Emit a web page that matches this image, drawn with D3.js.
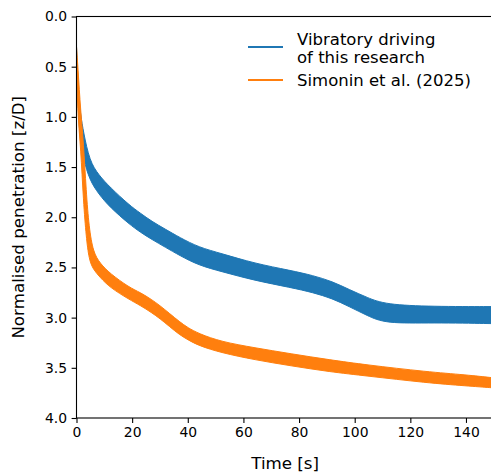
<!DOCTYPE html>
<html>
<head>
<meta charset="utf-8">
<script src="https://cdn.jsdelivr.net/npm/d3@7"></script>
<style>
  body { margin: 0; background: #fff; }
  svg { display: block; font-family: "DejaVu Sans", sans-serif; }
</style>
</head>
<body>
<svg id="chart" width="491" height="475"></svg>
<script>
// Band envelopes (time [s], upper/lower z/D)
const blueT   = [0, 0.8, 1.5, 2.5, 4.7, 8, 12, 19, 23, 27, 32, 37, 44, 52, 64, 77, 85, 92, 98, 104.5, 111, 128, 150];
const blueTop = [0.30, 0.80, 0.98, 1.15, 1.44, 1.58, 1.70, 1.88, 1.96, 2.04, 2.12, 2.20, 2.30, 2.36, 2.46, 2.53, 2.58, 2.64, 2.72, 2.80, 2.87, 2.89, 2.89];
const blueBot = [0.45, 1.05, 1.25, 1.42, 1.63, 1.77, 1.90, 2.07, 2.15, 2.22, 2.30, 2.38, 2.48, 2.54, 2.63, 2.70, 2.75, 2.81, 2.89, 2.98, 3.06, 3.05, 3.06];

const orangeT   = [0, 0.5, 1.5, 2.5, 3.5, 4.5, 6, 8.5, 12, 19, 23, 27, 30, 33.5, 37, 40, 44, 52, 64, 77, 91, 104, 126, 140, 150];
const orangeTop = [0.30, 0.50, 0.95, 1.25, 1.75, 2.10, 2.35, 2.46, 2.56, 2.70, 2.75, 2.82, 2.88, 2.96, 3.04, 3.10, 3.16, 3.24, 3.30, 3.36, 3.42, 3.47, 3.54, 3.57, 3.60];
const orangeBot = [0.50, 1.00, 1.30, 1.85, 2.20, 2.42, 2.52, 2.60, 2.70, 2.82, 2.88, 2.95, 3.01, 3.09, 3.17, 3.22, 3.28, 3.35, 3.42, 3.48, 3.54, 3.58, 3.65, 3.68, 3.70];

const xTicks = [0, 20, 40, 60, 80, 100, 120, 140];
const yTicks = [0, 0.5, 1, 1.5, 2, 2.5, 3, 3.5, 4];

const seriesNames = ["Vibratory driving|of this research", "Simonin et al. (2025)"];
const colors = ["#1f77b4", "#ff7f0e"];

const svg = d3.select("#chart");
const plotLeft = 76.5, plotTop = 16.5, plotBottom = 418, plotRight = 493.8;

const x = d3.scaleLinear().domain([0, 150]).range([plotLeft, plotRight]);
const y = d3.scaleLinear().domain([0, 4]).range([plotTop, plotBottom]);

svg.append("clipPath").attr("id", "clip")
  .append("rect").attr("x", plotLeft).attr("y", plotTop)
  .attr("width", plotRight - plotLeft).attr("height", plotBottom - plotTop);

// Build rows for each band
function rows(ts, tops, bots) {
  return ts.map((t, i) => ({ t: t, hi: tops[i], lo: bots[i] }));
}

const area = d3.area()
  .x(d => x(d.t))
  .y0(d => y(d.lo))
  .y1(d => y(d.hi))
  .curve(d3.curveBasis);

const plot = svg.append("g").attr("clip-path", "url(#clip)");
plot.append("path").datum(rows(blueT, blueTop, blueBot))
  .attr("d", area).attr("fill", colors[0])
  .attr("stroke", colors[0]).attr("stroke-width", 1);
plot.append("path").datum(rows(orangeT, orangeTop, orangeBot))
  .attr("d", area).attr("fill", colors[1])
  .attr("stroke", colors[1]).attr("stroke-width", 1);

// Axes
const xAxis = svg.append("g").attr("transform", `translate(0,${plotBottom})`)
  .call(d3.axisBottom(x).tickValues(xTicks).tickFormat(d3.format("d"))
    .tickSizeOuter(0).tickSize(4.9).tickPadding(4.5));
const yAxis = svg.append("g").attr("transform", `translate(${plotLeft},0)`)
  .call(d3.axisLeft(y).tickValues(yTicks).tickFormat(d3.format(".1f"))
    .tickSizeOuter(0).tickSize(4.9).tickPadding(4.5));

[xAxis, yAxis].forEach(g => {
  g.select(".domain").remove();
  g.selectAll(".tick line").attr("stroke", "#000").attr("stroke-width", 1.1);
  g.selectAll(".tick text").attr("fill", "#000")
    .style("font-size", "13.9px").style("font-family", "DejaVu Sans");
});

// Spines
svg.append("rect")
  .attr("x", plotLeft).attr("y", plotTop)
  .attr("width", plotRight - plotLeft).attr("height", plotBottom - plotTop)
  .attr("fill", "none").attr("stroke", "#000").attr("stroke-width", 1.1);

// Axis labels
svg.append("text")
  .attr("x", (plotLeft + plotRight) / 2).attr("y", 469)
  .attr("text-anchor", "middle").style("font-size", "16.7px")
  .text("Time [s]");
svg.append("text")
  .attr("transform", `translate(24,${(plotTop + plotBottom) / 2}) rotate(-90)`)
  .attr("text-anchor", "middle").style("font-size", "16.7px")
  .text("Normalised penetration [z/D]");

// Legend
const legendY = [47, 80];
const textY = [[44.5, 62.5], [86]];
seriesNames.forEach((name, i) => {
  svg.append("line")
    .attr("x1", 248).attr("x2", 283)
    .attr("y1", legendY[i]).attr("y2", legendY[i])
    .attr("stroke", colors[i]).attr("stroke-width", 2.1);
  const t = svg.append("text").style("font-size", "16.5px");
  name.split("|").forEach((line, j) => {
    t.append("tspan").attr("x", 297).attr("y", textY[i][j]).text(line);
  });
});
</script>
</body>
</html>
